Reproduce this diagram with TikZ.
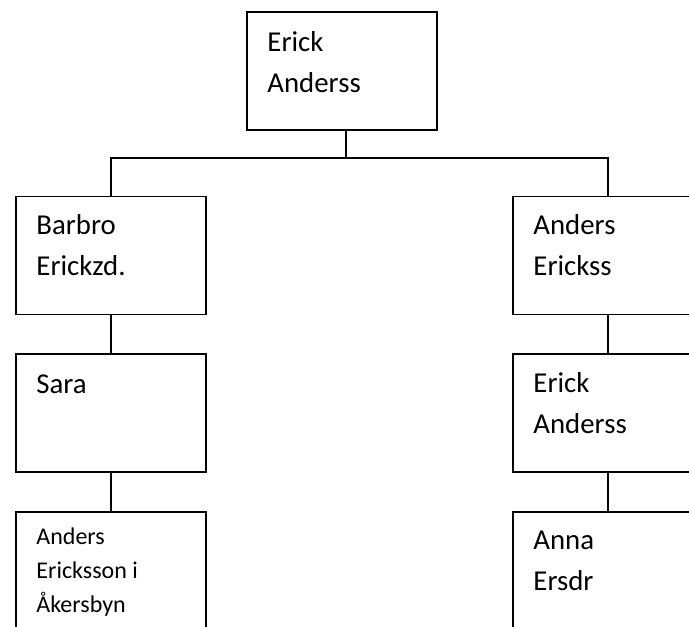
\documentclass[tikz,border=0pt]{standalone}
\usepackage{fontspec}
\setmainfont{Carlito}
\tikzstyle{person}=[draw, line width=1.5pt, minimum width=190pt, minimum height=118pt, inner sep=0pt]
\tikzstyle{edge}=[draw, line width=1.5pt, -]
\tikzstyle{nametext}=[anchor=base west, align=left, inner sep=0pt, font=\fontsize{28.8}{41}\selectfont]
\tikzstyle{small nametext}=[nametext, font=\fontsize{24}{34}\selectfont]

\begin{document}
\begin{tikzpicture}[x=1pt, y=-1pt]
	\useasboundingbox (0,0) rectangle (689,627);
	\clip (0,0) rectangle (689,627);
	\foreach \pos/\name in {{(342,71)/erick}, {(111,255.5)/barbro}, {(111,413)/sara}, {(111,571)/andersak},
		{(608,255.5)/anderse}, {(608,413)/ericka}, {(608,571)/anna}}
		\node[person] (\name) at \pos {};
	% names (base is the last line)
	\foreach \name/\down/\txt in {erick/81/{Erick\\Anderss}, barbro/80/{Barbro\\Erickzd.}, sara/40/{Sara},
		anderse/80/{Anders\\Erickss}, ericka/80/{Erick\\Anderss}, anna/79/{Anna\\Ersdr}}
		\node[nametext] at ([shift={(21,\down)}]\name.north west) {\txt};
	\node[small nametext] at ([shift={(21,101)}]andersak.north west) {Anders\\Ericksson i\\Åkersbyn};
	% lines
	\path[edge] ([xshift=4pt]erick.south) -- ++(0,27) coordinate (fork);
	\path[edge] (fork) -| (barbro.north);
	\path[edge] (fork) -| (anderse.north);
	\foreach \source/\dest in {barbro/sara, sara/andersak, anderse/ericka, ericka/anna}
		\path[edge] (\source) -- (\dest);
\end{tikzpicture}
\end{document}
